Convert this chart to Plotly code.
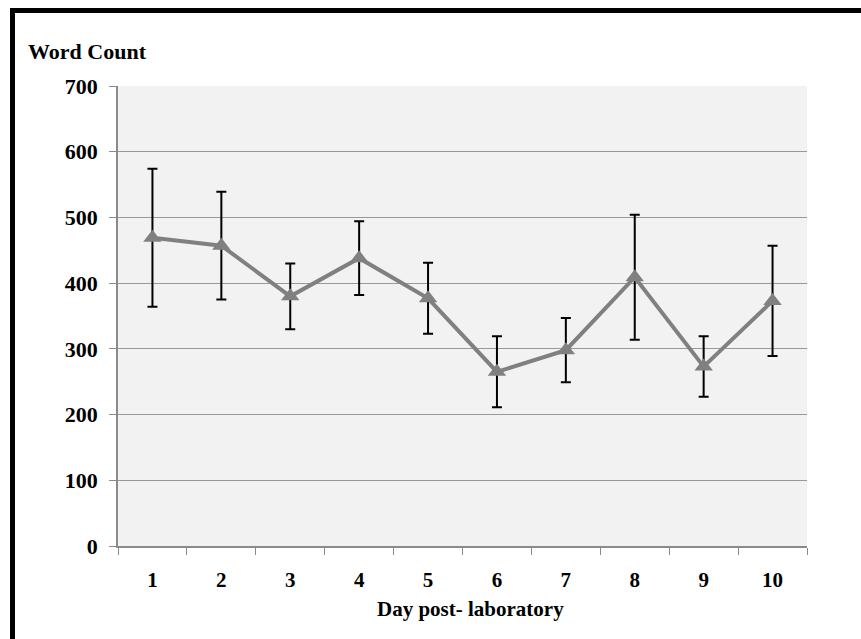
import plotly.graph_objects as go

# Mean word count per day after the laboratory session, with error bar half-widths
days = ["1", "2", "3", "4", "5", "6", "7", "8", "9", "10"]
word_count = [469, 457, 380, 438, 377, 265, 298, 409, 273, 373]
error = [105, 82, 50, 56, 54, 54, 49, 95, 46, 84]
y_ticks = [0, 100, 200, 300, 400, 500, 600, 700]

W, H = 861, 639
L, R, T, B = 118, 54, 86, 93
PW, PH = W - L - R, H - T - B

def px_x(x):
    return (x - L) / PW

def px_y(y):
    return 1 + (T - y) / PH

FONT = "Liberation Serif"
GRAY = "#808080"
AXIS = "#8a8a8a"

fig = go.Figure()
fig.add_trace(go.Scatter(
    x=days,
    y=word_count,
    mode="lines+markers",
    line=dict(color=GRAY, width=4),
    marker=dict(symbol="triangle-up", size=16, color=GRAY),
    error_y=dict(type="data", array=error, visible=True,
                 color="black", thickness=2, width=5),
    showlegend=False,
))

fig.update_layout(
    width=W, height=H,
    margin=dict(l=L, r=R, t=T, b=B),
    paper_bgcolor="white",
    plot_bgcolor="#f2f2f2",
    font=dict(family=FONT, size=20, color="black"),
    xaxis=dict(
        type="category",
        tickson="boundaries",
        ticks="outside", ticklen=7, tickcolor=AXIS, tickwidth=1,
        showgrid=False,
        showline=True, linecolor=AXIS, linewidth=1.5,
        tickfont=dict(family=FONT, size=21, color="black", weight="bold"),
        ticklabelstandoff=14,
        range=[-0.5, 9.5],
    ),
    yaxis=dict(
        range=[0, 700],
        tickvals=y_ticks,
        ticks="outside", ticklen=7, tickcolor=AXIS, tickwidth=1,
        showgrid=True, gridcolor="#999999", gridwidth=1.2,
        showline=True, linecolor=AXIS, linewidth=1.5,
        zeroline=False,
        tickfont=dict(family=FONT, size=22, color="black", weight="bold"),
        ticklabelstandoff=7,
    ),
)

# Axis titles
fig.add_annotation(
    text="<b>Word Count</b>", xref="paper", yref="paper",
    x=px_x(26), y=px_y(52), xanchor="left", yanchor="middle",
    showarrow=False, font=dict(family=FONT, size=22, color="black"),
)
fig.add_annotation(
    text="<b>Day post- laboratory</b>", xref="paper", yref="paper",
    x=px_x(470), y=px_y(609), xanchor="center", yanchor="middle",
    showarrow=False, font=dict(family=FONT, size=21, color="black"),
)

# Black frame along the top and left edges
fig.add_shape(type="line", xref="paper", yref="paper",
              x0=px_x(12.5), y0=px_y(H + 5), x1=px_x(12.5), y1=px_y(8),
              line=dict(color="black", width=5))
fig.add_shape(type="line", xref="paper", yref="paper",
              x0=px_x(10), y0=px_y(10.5), x1=px_x(W + 5), y1=px_y(10.5),
              line=dict(color="black", width=5))

fig.write_html("out.html")
